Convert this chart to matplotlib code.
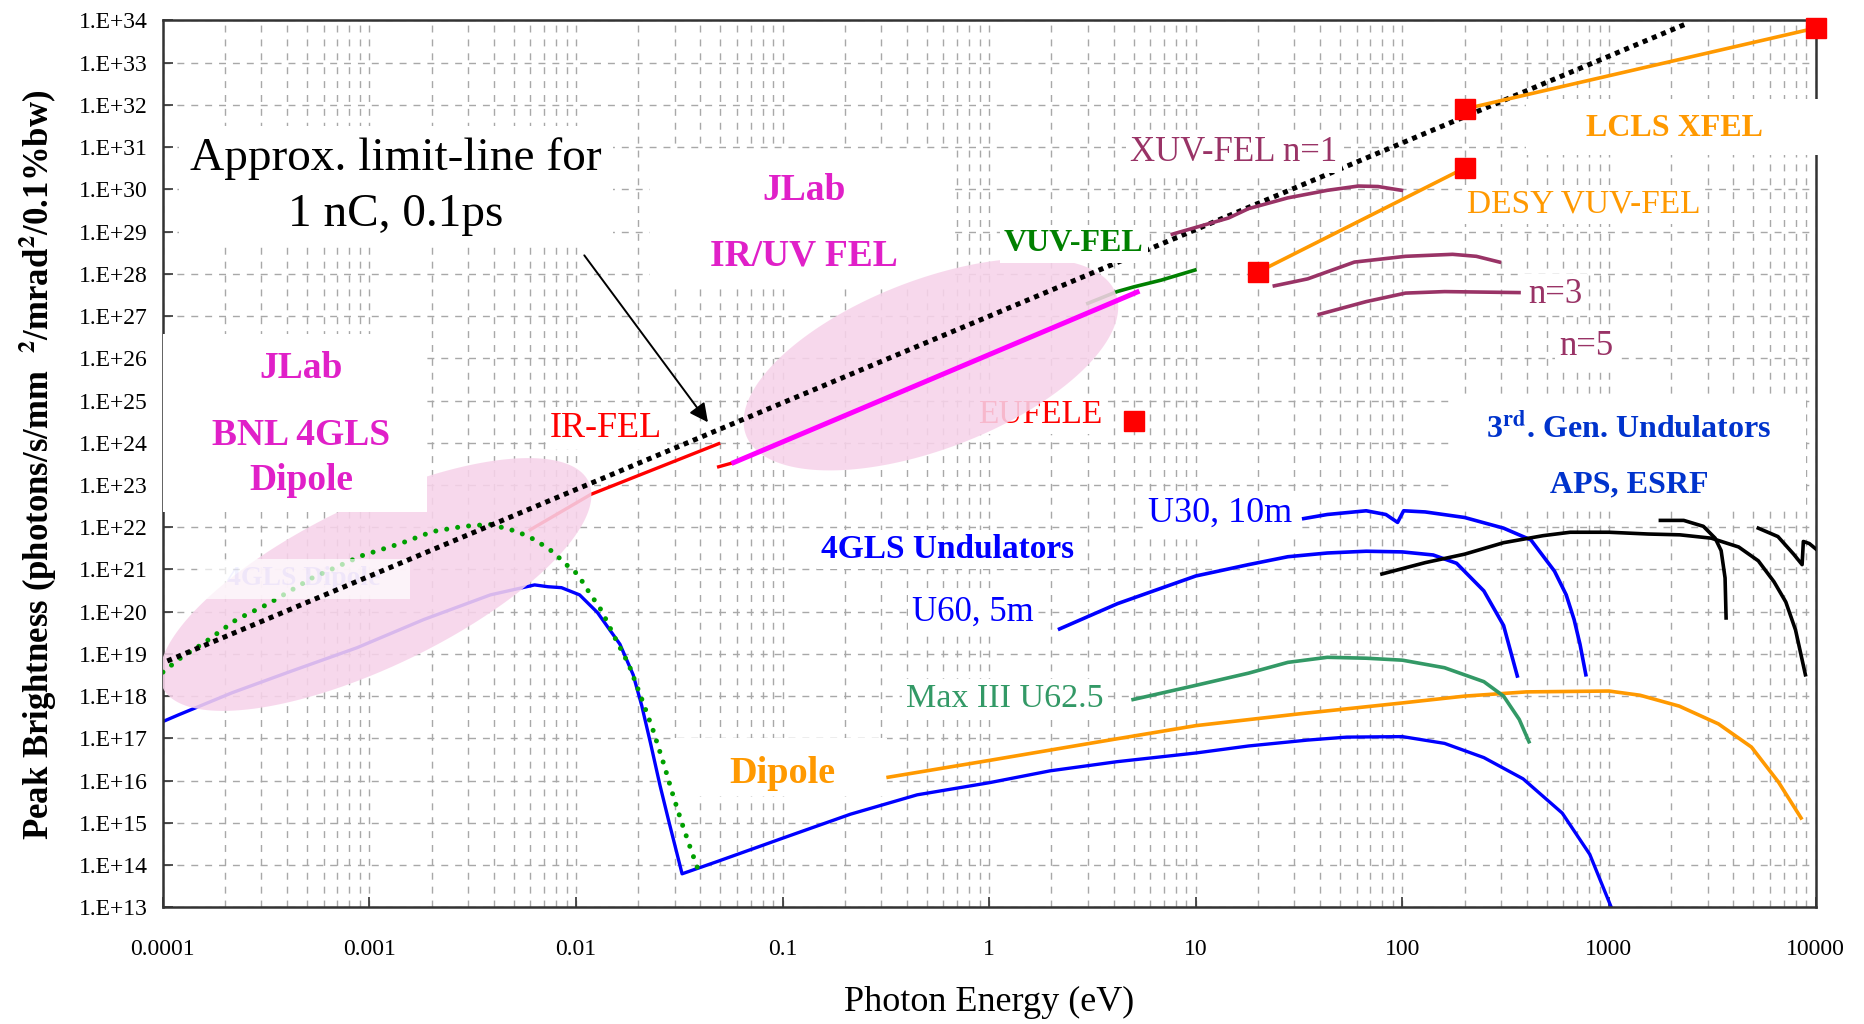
import numpy as np
import matplotlib
matplotlib.use("Agg")
import matplotlib.pyplot as plt
from matplotlib.patches import Polygon, Rectangle
from matplotlib.ticker import LogLocator, NullFormatter, NullLocator

plt.rcParams['font.family'] = ['Liberation Serif', 'DejaVu Serif']
plt.rcParams['mathtext.fontset'] = 'stix'

# ---------------- data (photon energy eV, peak brightness) ----------------
limit_e = [1.05e-4, 2360]
limit_b = [6.8e18, 8.3e33]

bnl_env_e = [1e-4, 1.19e-4, 1.6e-4, 2.27e-4, 3.21e-4, 5.28e-4, 9.14e-4, 1.43e-3, 2.02e-3,
             2.86e-3, 3.85e-3, 5.19e-3, 6.34e-3, 7.73e-3, 8.97e-3, 0.0102, 0.0115, 0.0133,
             0.0155, 0.018, 0.0208, 0.0236, 0.0267, 0.0295, 0.0326, 0.036, 0.0388]
bnl_env_b = [3.7e18, 7.4e18, 1.9e19, 6.5e19, 1.5e20, 6.3e20, 2.1e21, 4.2e21, 7.9e21,
             1.05e22, 1.17e22, 7.9e21, 5.0e21, 2.6e21, 1.3e21, 7.6e20, 3.0e20, 1.05e20,
             2.3e19, 5.6e18, 8.5e17, 1.55e17, 2.3e16, 4.4e15, 9.5e14, 2.3e14, 8.3e13]

gls_dipole_e = [1e-4, 1.19e-4, 1.52e-4, 2.16e-4, 4.12e-4, 8.7e-4, 1.83e-3, 3.85e-3, 6.3e-3,
                7.3e-3, 8.5e-3, 0.0104, 0.0127, 0.0163, 0.0189, 0.0208, 0.023, 0.0255, 0.0281,
                0.0326, 0.048, 0.101, 0.213, 0.448, 1, 1.97, 4.15, 10, 18, 34.8, 53.8, 100,
                160, 248, 384, 594, 807, 1026]
gls_dipole_b = [2.5e17, 3.6e17, 5.9e17, 1.2e18, 3.8e18, 1.4e19, 6.5e19, 2.5e20, 4.3e20,
                3.9e20, 3.7e20, 2.5e20, 9.5e19, 1.7e19, 3.2e18, 5.9e17, 7.2e16, 7.6e15, 1.1e15,
                6.2e13, 1.2e14, 4.4e14, 1.6e15, 4.6e15, 8.9e15, 1.7e16, 2.8e16, 4.5e16, 6.6e16,
                9.1e16, 1.07e17, 1.1e17, 7.6e16, 3.5e16, 1.1e16, 1.7e15, 1.8e14, 1e13]

ir_fel_e = [0.006, 0.0118, 0.049]
ir_fel_b = [8.7e21, 6.0e22, 9.5e23]
ir_fel_tail_e = [0.049, 0.058]
ir_fel_tail_b = [2.7e23, 3.4e23]

jlab_uv_e = [0.058, 5.2]
jlab_uv_b = [3.4e23, 3.7e27]

vuv_fel_e = [3.0, 4.16, 5.0, 6.8, 9.9]
vuv_fel_b = [2.0e27, 3.8e27, 4.9e27, 7.1e27, 1.23e28]

xuv_n1_e = [7.7, 14.4, 18, 27.9, 43.3, 61.2, 76.2, 99]
xuv_n1_b = [8.7e28, 2.1e29, 3.5e29, 6.3e29, 9.5e29, 1.2e30, 1.17e30, 9.5e29]
xuv_n3_e = [24, 34.8, 58.6, 103.5, 175, 228, 295]
xuv_n3_b = [5.2e27, 7.6e27, 1.9e28, 2.6e28, 2.9e28, 2.6e28, 1.9e28]
xuv_n5_e = [39.6, 66.8, 103.5, 160, 367]
xuv_n5_b = [1.1e27, 2.2e27, 3.5e27, 3.8e27, 3.6e27]

desy_e = [20, 200]
desy_b = [1.1e28, 3.2e30]
lcls_e = [200, 10000]
lcls_b = [8.0e31, 6.6e33]
square_e = [20, 200, 200, 10000, 5]
square_b = [1.1e28, 8.0e31, 3.2e30, 6.6e33, 3.2e24]

dipole3g_e = [0.324, 1, 3.16, 10, 31.6, 100, 200, 398, 1000, 1413, 2188, 3388, 4898, 6607, 8511]
dipole3g_b = [1.2e16, 3.0e16, 7.8e16, 2.0e17, 3.8e17, 6.9e17, 1.0e18, 1.26e18, 1.32e18,
              1.05e18, 5.8e17, 2.2e17, 6.2e16, 9.3e15, 1.3e15]

max3_e = [4.97, 10, 18, 27.9, 43.3, 66.8, 100, 160, 248, 309, 368, 410]
max3_b = [8.3e17, 1.8e18, 3.5e18, 6.3e18, 8.3e18, 7.9e18, 7.1e18, 4.7e18, 2.2e18, 1.0e18,
          2.8e17, 8.3e16]

u60_e = [2.19, 4.18, 10, 18, 27.9, 43.3, 66.8, 100, 141, 183, 248, 309, 360]
u60_b = [3.9e19, 1.55e20, 7e20, 1.3e21, 2.0e21, 2.45e21, 2.7e21, 2.6e21, 2.2e21, 1.4e21,
         3.1e20, 4.7e19, 3.0e18]

u30_e = [33.3, 43.3, 66.8, 83.2, 94.8, 101.4, 129, 200, 309, 419, 545, 621, 678, 724, 773]
u30_b = [1.6e22, 2.0e22, 2.45e22, 2.0e22, 1.3e22, 2.45e22, 2.3e22, 1.7e22, 9.5e21, 5.0e21,
         9.1e20, 2.5e20, 6.5e19, 1.7e19, 3.2e18]

aps1_e = [79.6, 129, 200, 309, 479, 649, 1000, 1549, 2203, 3126, 4246, 5284, 6295, 7178, 8000, 8933]
aps1_b = [7.8e20, 1.45e21, 2.3e21, 4.3e21, 6.3e21, 7.6e21, 7.6e21, 6.9e21, 6.6e21, 5.5e21,
          3.4e21, 1.6e21, 5.1e20, 1.7e20, 3.7e19, 3.2e18]
aps2_e = [1774, 2301, 2864, 3266, 3491, 3648, 3690]
aps2_b = [1.45e22, 1.45e22, 1.05e22, 5.5e21, 2.8e21, 6.3e20, 7.1e19]
aps3_e = [5284, 6577, 7834, 8610, 8730, 9333, 10000]
aps3_b = [9.5e21, 6.0e21, 2.3e21, 1.3e21, 4.6e21, 4.1e21, 3.1e21]

x_ticks = [1e-4, 1e-3, 1e-2, 1e-1, 1, 10, 100, 1000, 10000]
x_tick_labels = ['0.0001', '0.001', '0.01', '0.1', '1', '10', '100', '1000', '10000']
y_exps = list(range(13, 35))

# ---------------- figure ----------------
fig = plt.figure(figsize=(18.64, 10.24), dpi=100)
ax = fig.add_axes([0.0874, 0.114, 0.8866, 0.866])
ax.set_xscale('log')
ax.set_yscale('log')
ax.set_xlim(1e-4, 1e4)
ax.set_ylim(1e13, 1e34)

ax.set_xticks(x_ticks)
ax.set_xticklabels(x_tick_labels)
ax.xaxis.set_minor_locator(LogLocator(base=10, subs=np.arange(2, 10), numticks=100))
ax.xaxis.set_minor_formatter(NullFormatter())
ax.set_yticks([10.0 ** e for e in y_exps])
ax.set_yticklabels([f"1.E+{e}" for e in y_exps])
ax.yaxis.set_minor_locator(NullLocator())
ax.tick_params(which='major', direction='in', length=7, width=1.2, color='#333333',
               labelsize=17)
ax.tick_params(axis='x', which='major', pad=23)
ax.tick_params(axis='y', which='major', pad=11)
ax.tick_params(which='minor', length=0)

ax.set_axisbelow(True)
grid_style = dict(color='#a8a8a8', ls=(0, (5, 5)), lw=1.0)
ax.grid(True, which='both', axis='x', **grid_style)
ax.grid(True, which='major', axis='y', **grid_style)
for sp in ax.spines.values():
    sp.set_color('#333333')
    sp.set_linewidth(1.8)

ax.set_xlabel('Photon Energy (eV)', fontsize=26, va='center')
ax.xaxis.set_label_coords(0.5, -0.107)
ax.set_ylabel('Peak Brightness (photons/s/mm  $^{\\mathbf{2}}$/mrad$^{\\mathbf{2}}$/0.1%bw)',
              fontsize=25, fontweight='bold', va='center')
ax.yaxis.set_label_coords(-0.0756, 0.4986)


def pink_ellipse(ax, xc, yc, w, h, angle):
    cx, cy = ax.transData.transform((xc, yc))
    t = np.linspace(0, 2 * np.pi, 240)
    a = np.deg2rad(angle)
    px = cx + w / 2 * np.cos(t) * np.cos(a) - h / 2 * np.sin(t) * np.sin(a)
    py = cy + w / 2 * np.cos(t) * np.sin(a) + h / 2 * np.sin(t) * np.cos(a)
    pts = ax.transData.inverted().transform(np.column_stack([px, py]))
    ax.add_patch(Polygon(pts, closed=True, fc='#f7d3ea', ec='none', alpha=0.88, zorder=2.6))


# lines lying under the pink regions
ax.plot(gls_dipole_e, gls_dipole_b, color='#0000ff', lw=2.4, zorder=2)
ax.plot(ir_fel_e, ir_fel_b, color='#ff0000', lw=2.4, zorder=2)
ax.plot(vuv_fel_e, vuv_fel_b, color='#008000', lw=2.6, zorder=2)

pink_ellipse(ax, 1.07e-3, 4.4e20, 473, 163, 25.8)
pink_ellipse(ax, 0.522, 7.2e25, 396, 169, 21)

# white label backgrounds (axes fraction: x0, y0, w, h, zorder)
masks = [(0.0, 0.446, 0.160, 0.201, 2.8),
         (0.295, 0.699, 0.183, 0.155, 2.5),
         (0.825, 0.848, 0.181, 0.064, 2.8),
         (0.781, 0.453, 0.213, 0.121, 2.5),
         (0.308, 0.125, 0.130, 0.066, 2.5)]
for x0, y0, w, h, z in masks:
    ax.add_patch(Rectangle((x0, y0), w, h, transform=ax.transAxes, fc='white', ec='none',
                           zorder=z, clip_on=False))

ax.plot(bnl_env_e, bnl_env_b, color='#00a000', lw=3.6, ls=(0, (0.01, 2.2)),
        dash_capstyle='round', zorder=4)
ax.add_patch(Rectangle((0.0206, 0.348), 0.129, 0.045, transform=ax.transAxes, fc='white',
                       ec='none', alpha=0.7, zorder=4.5))
ax.text(4.8e-4, 6.2e20, '4GLS Dipole', color='#0000ff', alpha=0.05, fontsize=20,
        fontweight='bold', ha='center', va='center', zorder=4.6)

ax.plot(limit_e, limit_b, color='black', lw=3.6, ls=(0, (1, 1)), zorder=5)
ax.plot(ir_fel_tail_e, ir_fel_tail_b, color='#ff0000', lw=2.4, zorder=5)
ax.plot(jlab_uv_e, jlab_uv_b, color='#ff00ff', lw=3.6, zorder=5)

maroon = '#993366'
for e, b in [(xuv_n1_e, xuv_n1_b), (xuv_n3_e, xuv_n3_b), (xuv_n5_e, xuv_n5_b)]:
    ax.plot(e, b, color=maroon, lw=2.6, zorder=5)

orange = '#ff9900'
ax.plot(desy_e, desy_b, color=orange, lw=2.6, zorder=5)
ax.plot(lcls_e, lcls_b, color=orange, lw=2.6, zorder=5)
ax.plot(dipole3g_e, dipole3g_b, color=orange, lw=2.6, zorder=5)
ax.plot(max3_e, max3_b, color='#339966', lw=2.6, zorder=5)
ax.plot(u60_e, u60_b, color='#0000ff', lw=2.6, zorder=5)
ax.plot(u30_e, u30_b, color='#0000ff', lw=2.6, zorder=5)
for e, b in [(aps1_e, aps1_b), (aps2_e, aps2_b), (aps3_e, aps3_b)]:
    ax.plot(e, b, color='black', lw=2.6, zorder=5)
ax.plot(square_e, square_b, ls='none', marker='s', ms=14, color='#ff0000', zorder=6,
        clip_on=False)

# ---------------- labels ----------------
labels = [
    ('Approx. limit-line for\n1 nC, 0.1ps', 1.34e-3, 1.15e30, 'black', 34, 'normal'),
    ('JLab', 4.66e-4, 5.6e25, '#e020c8', 27, 'bold'),
    ('BNL 4GLS', 4.66e-4, 1.5e24, '#e020c8', 27, 'bold'),
    ('Dipole', 4.66e-4, 1.26e23, '#e020c8', 27, 'bold'),
    ('JLab', 0.1265, 9.3e29, '#e020c8', 27, 'bold'),
    ('IR/UV FEL', 0.1265, 2.7e28, '#e020c8', 27, 'bold'),
    ('IR-FEL', 0.014, 2.2e24, '#ff0000', 26, 'normal'),
    ('VUV-FEL', 2.57, 5.1e28, '#008000', 23, 'bold'),
    ('XUV-FEL n=1', 15.3, 7.5e30, maroon, 25, 'normal'),
    ('LCLS XFEL', 2065, 2.8e31, orange, 23, 'bold'),
    ('DESY VUV-FEL', 755, 4.4e29, orange, 24, 'normal'),
    ('n=3', 550, 3.3e27, maroon, 25, 'normal'),
    ('n=5', 775, 1.9e26, maroon, 25, 'normal'),
    ('EUFELE', 1.77, 4.5e24, '#ff0000', 24, 'normal'),
    ('3$^{\\mathbf{rd}}$. Gen. Undulators', 1250, 2.2e24, '#0033cc', 23, 'bold'),
    ('APS, ESRF', 1250, 9.8e22, '#0033cc', 23, 'bold'),
    ('U30, 10m', 13.1, 2.1e22, '#0000ff', 26, 'normal'),
    ('4GLS Undulators', 0.63, 3.0e21, '#0000ff', 24, 'bold'),
    ('U60, 5m', 0.83, 9.5e19, '#0000ff', 25, 'normal'),
    ('Max III U62.5', 1.19, 8.9e17, '#339966', 24.5, 'normal'),
    ('Dipole', 0.1, 1.5e16, orange, 27.5, 'bold'),
]
boxed = {'IR-FEL', 'VUV-FEL', 'XUV-FEL n=1', 'DESY VUV-FEL', 'n=3', 'n=5', 'EUFELE',
         'U30, 10m', '4GLS Undulators', 'U60, 5m', 'Max III U62.5'}
for txt, x, y, col, fs, fw in labels:
    kw = {'zorder': 7}
    if txt in boxed:
        kw['bbox'] = dict(fc='white', ec='none', pad=3)
    if txt == 'EUFELE':
        kw['zorder'] = 2.55   # sits under the pink JLab region
    if txt.startswith('Approx'):
        kw['bbox'] = dict(fc='white', ec='none', pad=8)
        kw['linespacing'] = 1.4
    ax.text(x, y, txt, color=col, fontsize=fs, fontweight=fw, ha='center', va='center', **kw)

ax.annotate('', xy=(0.0443, 2.7e24), xytext=(0.01076, 3.1e28),
            arrowprops=dict(arrowstyle='-|>', color='black', lw=1.4, mutation_scale=28),
            zorder=7)

fig.savefig('out.png', dpi=100)
